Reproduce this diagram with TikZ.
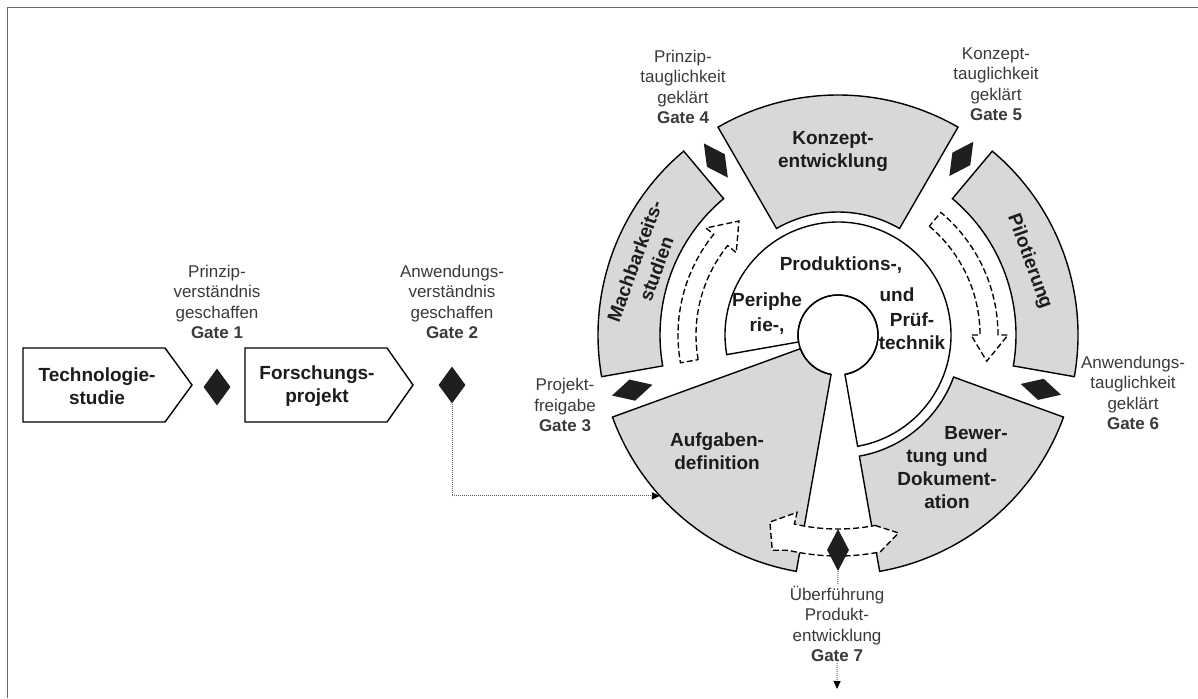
\documentclass[tikz,border=0pt]{standalone}
\usepackage{fontspec}
\setmainfont{Liberation Sans}
\usetikzlibrary{shapes.geometric,arrows.meta,calc}

\definecolor{segfill}{RGB}{216,216,216}
\definecolor{framegray}{RGB}{105,105,105}
\definecolor{inkdark}{RGB}{28,28,28}
\definecolor{labelink}{RGB}{58,58,58}
\definecolor{linkgray}{RGB}{95,95,95}

\tikzset{
  phase/.style={draw=black, line width=1.4pt, fill=segfill, line join=miter},
  core/.style={draw=black, line width=1.4pt, fill=white},
  chevron/.style={draw=black, line width=1.4pt, fill=white, line join=miter},
  flowarrow/.style={draw=black, fill=white, line width=1.35pt, dash pattern=on 6pt off 3pt},
  gatemark/.style={diamond, fill=black!88, draw=none, inner sep=0pt,
                   minimum width=22pt, minimum height=42pt},
  gatemarksmall/.style={diamond, fill=black!88, draw=none, inner sep=0pt,
                   minimum width=27pt, minimum height=37pt},
  gatelabel/.style={align=center, text=labelink, inner sep=1pt,
                    font=\fontsize{17}{20.5}\selectfont},
  phasetext/.style={align=center, text=inkdark, inner sep=0pt,
                    font=\bfseries\fontsize{19}{23}\selectfont},
  handover/.style={densely dotted, draw=linkgray, line width=1pt,
                   -{Triangle[length=8pt,width=7pt,color=black]}},
}

\begin{document}
\begin{tikzpicture}[x=1pt,y=-1pt]
\useasboundingbox (0,0) rectangle (1198,698);

% frame
\draw[framegray, line width=1.6pt] (7.5,698) -- (7.5,7.5) -- (1198,7.5);

% preliminary phases
\draw[chevron] (23,348) -- (165,348) -- (192,385) -- (165,422) -- (23,422) -- cycle;
\node[phasetext] (tech) at (97,386) {Technologie-\\studie};
\draw[chevron] (245,348) -- (387,348) -- (413,385) -- (387,422) -- (245,422) -- cycle;
\node[phasetext] (forsch) at (317,386) {Forschungs-\\projekt};

\node[gatemarksmall] (g1) at (217,387) {};
\node[gatelabel] (g1l) at (217,302) {Prinzip-\\verständnis\\geschaffen\\\textbf{Gate 1}};
\node[gatemarksmall] (g2) at (452,385) {};
\node[gatelabel] (g2l) at (452,302) {Anwendungs-\\verständnis\\geschaffen\\\textbf{Gate 2}};

% project cycle
\begin{scope}[shift={(838,335)}]
  % outer phases
  \path[phase] (60:123pt) -- (60:240pt) arc[start angle=60,end angle=120,radius=240pt]
     -- (120:123pt) arc[start angle=120,end angle=60,radius=123pt] -- cycle;
  \path[phase] (130:178pt) -- (130:240pt) arc[start angle=130,end angle=190,radius=240pt]
     -- (190:178pt) arc[start angle=190,end angle=130,radius=178pt] -- cycle;
  \path[phase] (-10:178pt) -- (-10:240pt) arc[start angle=-10,end angle=50,radius=240pt]
     -- (50:178pt) arc[start angle=50,end angle=-10,radius=178pt] -- cycle;
  \path[phase] (-80:123pt) -- (-80:240pt) arc[start angle=-80,end angle=-20,radius=240pt]
     -- (-20:123pt) arc[start angle=-20,end angle=-80,radius=123pt] -- cycle;
  \path[phase] (200:40pt) -- (200:240pt) arc[start angle=200,end angle=260,radius=240pt]
     -- (260:40pt) arc[start angle=260,end angle=200,radius=40pt] -- cycle;

  % inner ring of production technology
  \path[core] (190:40pt) -- (190:113pt) arc[start angle=190,end angle=-80,radius=113pt]
     -- (-80:40pt) arc[start angle=-80,end angle=190,radius=40pt] -- cycle;
  \draw[line width=1.4pt] (-80:40pt) arc[start angle=-80,end angle=260,radius=40pt];

  % iteration arrows
  \path[flowarrow] (190:142pt) arc[start angle=190,end angle=141,radius=142pt]
     -- (141:131pt) -- (131:151pt) -- (141:170pt) -- (141:160pt)
     arc[start angle=141,end angle=190,radius=160pt] -- cycle;
  \path[flowarrow] (50:142pt) arc[start angle=50,end angle=0,radius=142pt]
     -- (0:133pt) -- (-10:151pt) -- (0:170pt) -- (0:160pt)
     arc[start angle=0,end angle=50,radius=160pt] -- cycle;
  \path[flowarrow] (-79:194pt) -- (-73:207pt) -- (-79:221pt)
     arc[start angle=-79,end angle=-103,radius=221pt]
     -- (-107:225pt) -- (-110:199pt) -- (-103:182pt) -- (-103:194pt)
     arc[start angle=-103,end angle=-79,radius=194pt] -- cycle;

  % gates on the cycle
  \node[gatemark, rotate=105] (g3) at (195:213pt) {};
  \node[gatemark, rotate=35] (g4) at (125:213pt) {};
  \node[gatemark, rotate=-35] (g5) at (55:215pt) {};
  \node[gatemark, rotate=-105] (g6) at (-15:210pt) {};
  \node[gatemark] (g7) at (-90:215pt) {};

  \coordinate (agIn) at (222.1:240pt);

  % phase names
  \node[phasetext, rotate=70] (mach) at (160:205pt) {Machbarkeits-\\studien};
  \node[phasetext, rotate=-70] (pilot) at (21:205pt) {Pilotierung};
\end{scope}

\node[phasetext] (konz) at (833,151) {Konzept-\\entwicklung};
\node[phasetext] (aufg) at (717,451) {Aufgaben-\\definition};
\node[phasetext] (bew1) at (976,433) {Bewer-};
\node[phasetext] (bew2) at (947,479) {tung und\\Dokument-\\ation};

\node[phasetext] (prod) at (841,265) {Produktions-,};
\node[phasetext] (peri1) at (767,302) {Periphe};
\node[phasetext] (peri2) at (767,326) {rie-,};
\node[phasetext] (und) at (897,295) {und};
\node[phasetext] (pruef) at (912,331) {Prüf-\\technik};

% gate labels on the cycle
\node[gatelabel] (g3l) at (565,405) {Projekt-\\freigabe\\\textbf{Gate 3}};
\node[gatelabel] (g4l) at (683,87) {Prinzip-\\tauglichkeit\\geklärt\\\textbf{Gate 4}};
\node[gatelabel] (g5l) at (996,84) {Konzept-\\tauglichkeit\\geklärt\\\textbf{Gate 5}};
\node[gatelabel] (g6l) at (1133,393) {Anwendungs-\\tauglichkeit\\geklärt\\\textbf{Gate 6}};

% hand-over connectors
\coordinate (g7end) at (837,689);
\draw[handover] (g2.south) |- (agIn);
\draw[handover] (g7.south) -- (g7end);
\node[gatelabel, fill=white] (g7l) at (837,624) {Überführung\\Produkt-\\entwicklung\\\textbf{Gate 7}};

\end{tikzpicture}
\end{document}
